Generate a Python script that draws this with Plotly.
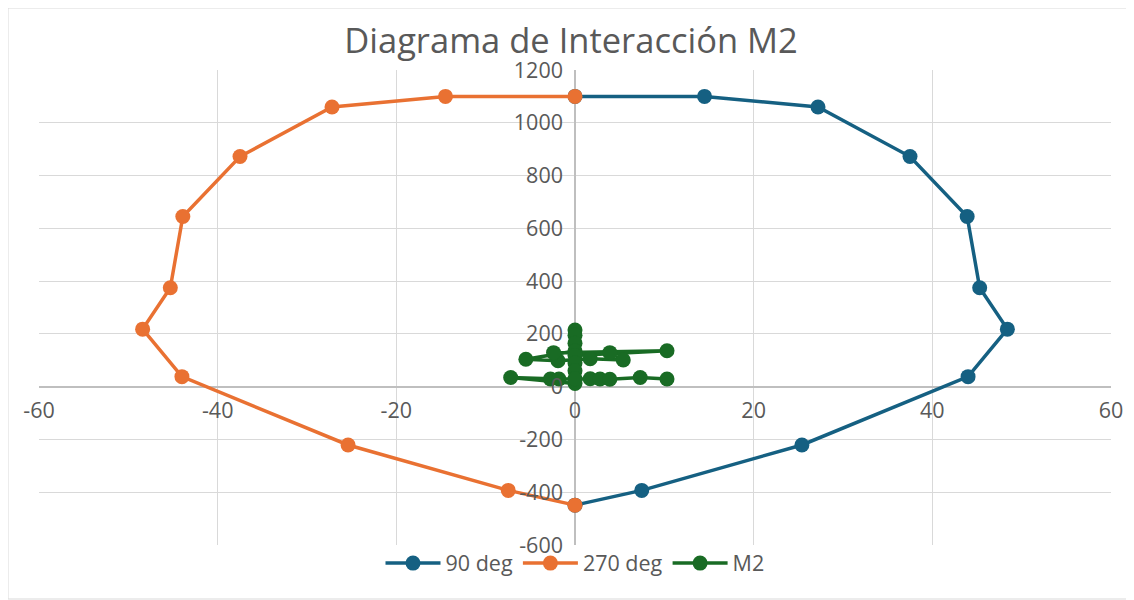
import plotly.graph_objects as go

# 90 deg curve (M2, P)
deg90_m = [0, 14.5, 27.2, 37.5, 43.9, 45.3, 48.4, 44.0, 25.4, 7.47, 0]
deg90_p = [1100, 1100, 1060, 872, 645, 375, 218, 38, -221, -393, -449]

# 270 deg curve (M2, P)
deg270_m = [0, -14.5, -27.2, -37.5, -43.9, -45.3, -48.4, -44.0, -25.4, -7.47, 0]
deg270_p = [1100, 1100, 1060, 872, 645, 375, 218, 38, -221, -393, -449]

# M2 load combinations
m2_m = [0, 0, 0, 0, -5.5, -1.9, 1.7, 5.4, 3.9, -2.4, 10.3, 0, 0, 0, 0,
        -7.2, -2.75, -1.8, 0, 1.7, 2.8, 3.9, 7.3, 10.3]
m2_p = [215, 195, 165, 135, 104, 98, 106, 101, 129, 129, 136, 118, 90, 60, 12,
        35, 29, 29, 30, 30, 29, 28, 35, 29]

x_ticks = [-60, -40, -20, 0, 20, 40, 60]
y_ticks = [-600, -400, -200, 0, 200, 400, 600, 800, 1000, 1200]

BLUE = "#156082"
ORANGE = "#E97132"
GREEN = "#196B24"
TXT = "#595959"
FONT = "Open Sans"

# page body has an 8px margin; figure drawn at (8, 8)
W, H = 1126, 592

fig = go.Figure()
for name, xs, ys, col in [("90 deg", deg90_m, deg90_p, BLUE),
                          ("270 deg", deg270_m, deg270_p, ORANGE),
                          ("M2", m2_m, m2_p, GREEN)]:
    fig.add_trace(go.Scatter(x=xs, y=ys, name=name, mode="lines+markers",
                             line=dict(color=col, width=3.5),
                             marker=dict(color=col, size=15)))

fig.update_layout(
    width=W, height=H,
    margin=dict(l=31, r=23, t=62, b=55, autoexpand=False),
    paper_bgcolor="white", plot_bgcolor="white",
    font=dict(family=FONT, color=TXT, size=21),
    title=dict(text="Diagrama de Interacción M2", x=0.5, xanchor="center",
               y=1 - 33 / H, yanchor="middle",
               font=dict(family=FONT, size=34.5, color=TXT)),
    showlegend=True,
    legend=dict(orientation="h", x=0.5, xanchor="center", y=0.005, yanchor="top",
                font=dict(family=FONT, size=21.5, color=TXT), bgcolor="rgba(0,0,0,0)",
                itemwidth=55),
    xaxis=dict(range=[-60, 60], tickvals=x_ticks, ticktext=[str(v) for v in x_ticks],
               showgrid=True, gridcolor="#d9d9d9", gridwidth=1.3,
               zeroline=True, zerolinecolor="#bfbfbf", zerolinewidth=1.5,
               anchor="free", position=1 / 3, showline=False, ticks="",
               automargin=False, ticklabelstandoff=9,
               tickfont=dict(size=21.5, color=TXT), domain=[0, 1]),
    yaxis=dict(range=[-600, 1200], tickvals=y_ticks, ticktext=[str(v) for v in y_ticks],
               showgrid=True, gridcolor="#d9d9d9", gridwidth=1.3,
               zeroline=True, zerolinecolor="#bfbfbf", zerolinewidth=1.5,
               anchor="free", position=0.5, showline=False, ticks="",
               automargin=False, ticklabelstandoff=12,
               tickfont=dict(size=21.5, color=TXT), domain=[0, 1]),
)

# outer chart border
fig.add_shape(type="rect", xref="paper", yref="paper",
              x0=(0 - 31) / 1072, x1=(1123 - 31) / 1072,
              y0=(537 - 591) / 475, y1=(537 - 0) / 475,
              line=dict(color="#d9d9d9", width=1), layer="below")

fig.write_html("out.html")
